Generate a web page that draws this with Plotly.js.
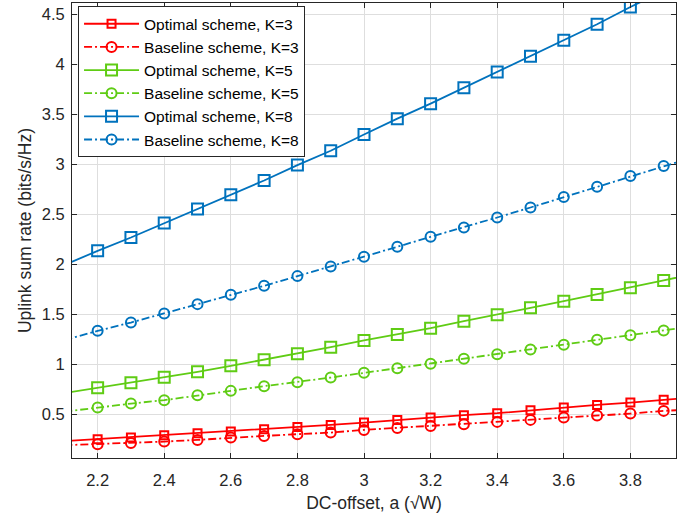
<!DOCTYPE html>
<html>
<head>
<meta charset="utf-8">
<script src="https://cdn.plot.ly/plotly-3.0.1.min.js"></script>
<style>html,body{margin:0;padding:0;background:#fff;}#chart{width:691px;height:519px;}</style>
</head>
<body>
<div id="chart"></div>
<script>
// DC-offset values (line extends slightly beyond the visible axis range)
const dcOffset = [2.1, 2.2, 2.3, 2.4, 2.5, 2.6, 2.7, 2.8, 2.9, 3.0, 3.1, 3.2, 3.3, 3.4, 3.5, 3.6, 3.7, 3.8, 3.9, 4.0];

const optimalK3  = [0.23, 0.25, 0.266, 0.29, 0.31, 0.326, 0.35, 0.373, 0.393, 0.416, 0.443, 0.466, 0.49, 0.51, 0.54, 0.566, 0.593, 0.616, 0.643, 0.67];
const baselineK3 = [0.19, 0.20, 0.213, 0.226, 0.243, 0.266, 0.283, 0.30, 0.316, 0.343, 0.363, 0.383, 0.40, 0.423, 0.443, 0.466, 0.486, 0.506, 0.533, 0.55];
const optimalK5  = [0.71, 0.764, 0.813, 0.87, 0.923, 0.983, 1.043, 1.103, 1.17, 1.237, 1.297, 1.36, 1.43, 1.494, 1.563, 1.63, 1.697, 1.763, 1.837, 1.91];
const baselineK5 = [0.525, 0.566, 0.606, 0.64, 0.69, 0.733, 0.78, 0.82, 0.866, 0.913, 0.96, 1.004, 1.054, 1.10, 1.147, 1.194, 1.244, 1.29, 1.337, 1.385];
const optimalK8  = [1.99, 2.133, 2.266, 2.41, 2.55, 2.693, 2.836, 2.99, 3.133, 3.295, 3.454, 3.604, 3.764, 3.92, 4.077, 4.237, 4.397, 4.57, 4.73, 4.89];
const baselineK8 = [1.24, 1.333, 1.416, 1.506, 1.60, 1.693, 1.783, 1.88, 1.976, 2.073, 2.173, 2.273, 2.366, 2.466, 2.566, 2.67, 2.773, 2.88, 2.98, 3.08];

const seriesNames = ['Optimal scheme, K=3', 'Baseline scheme, K=3', 'Optimal scheme, K=5',
                     'Baseline scheme, K=5', 'Optimal scheme, K=8', 'Baseline scheme, K=8'];

const RED = '#FF0000', GREEN = '#5FCC14', BLUE = '#0072BD';
const DASHDOT = '8px,3px,2px,3px';

function mk(y, name, color, dash, symbol, size) {
  return {
    x: dcOffset, y: y, name: name, type: 'scatter', mode: 'lines+markers',
    line: {color: color, width: 1.8, dash: dash},
    marker: {symbol: symbol, size: size, color: color, line: {color: color, width: 2}},
    cliponaxis: true
  };
}

const data = [
  mk(optimalK3,  seriesNames[0], RED,   'solid', 'square-open', 8),
  mk(baselineK3, seriesNames[1], RED,   DASHDOT, 'circle-open', 10),
  mk(optimalK5,  seriesNames[2], GREEN, 'solid', 'square-open', 11),
  mk(baselineK5, seriesNames[3], GREEN, DASHDOT, 'circle-open', 10),
  mk(optimalK8,  seriesNames[4], BLUE,  'solid', 'square-open', 11),
  mk(baselineK8, seriesNames[5], BLUE,  DASHDOT, 'circle-open', 10)
];

const FONT = 'Liberation Sans, Arial, Helvetica, sans-serif';
const axisCommon = {
  showline: true, linecolor: '#262626', linewidth: 1, mirror: 'ticks',
  ticks: 'inside', ticklen: 5, tickcolor: '#262626', tickwidth: 1,
  showgrid: true, gridcolor: '#DEDEDE', gridwidth: 1, zeroline: false,
  tickfont: {family: FONT, size: 16.5, color: '#262626'}
};

const layout = {
  width: 691, height: 519,
  margin: {l: 72, r: 15, t: 3, b: 61},
  paper_bgcolor: '#FFFFFF', plot_bgcolor: '#FFFFFF',
  font: {family: FONT, color: '#262626'},
  showlegend: true,
  xaxis: Object.assign({}, axisCommon, {
    range: [2.123, 3.937],
    tickvals: [2.2, 2.4, 2.6, 2.8, 3.0, 3.2, 3.4, 3.6, 3.8],
    ticktext: ['2.2', '2.4', '2.6', '2.8', '3', '3.2', '3.4', '3.6', '3.8'],
    ticklabelstandoff: 7,
    title: {text: 'DC-offset, a (\u221AW)', font: {family: FONT, size: 17.5, color: '#262626'}, standoff: 8}
  }),
  yaxis: Object.assign({}, axisCommon, {
    range: [0.062, 4.61],
    tickvals: [0.5, 1, 1.5, 2, 2.5, 3, 3.5, 4, 4.5],
    ticktext: ['0.5', '1', '1.5', '2', '2.5', '3', '3.5', '4', '4.5'],
    ticklabelstandoff: 3,
    title: {text: 'Uplink sum rate (bits/s/Hz)', font: {family: FONT, size: 17.5, color: '#262626'}, standoff: 5}
  }),
  legend: {
    x: 0.01, y: 0.993, xanchor: 'left', yanchor: 'top',
    bgcolor: '#FFFFFF', bordercolor: '#262626', borderwidth: 1,
    font: {family: FONT, size: 15.5, color: '#000000'},
    itemwidth: 55, tracegroupgap: 0
  }
};

Plotly.newPlot('chart', data, layout, {displayModeBar: false, staticPlot: true});
</script>
</body>
</html>
